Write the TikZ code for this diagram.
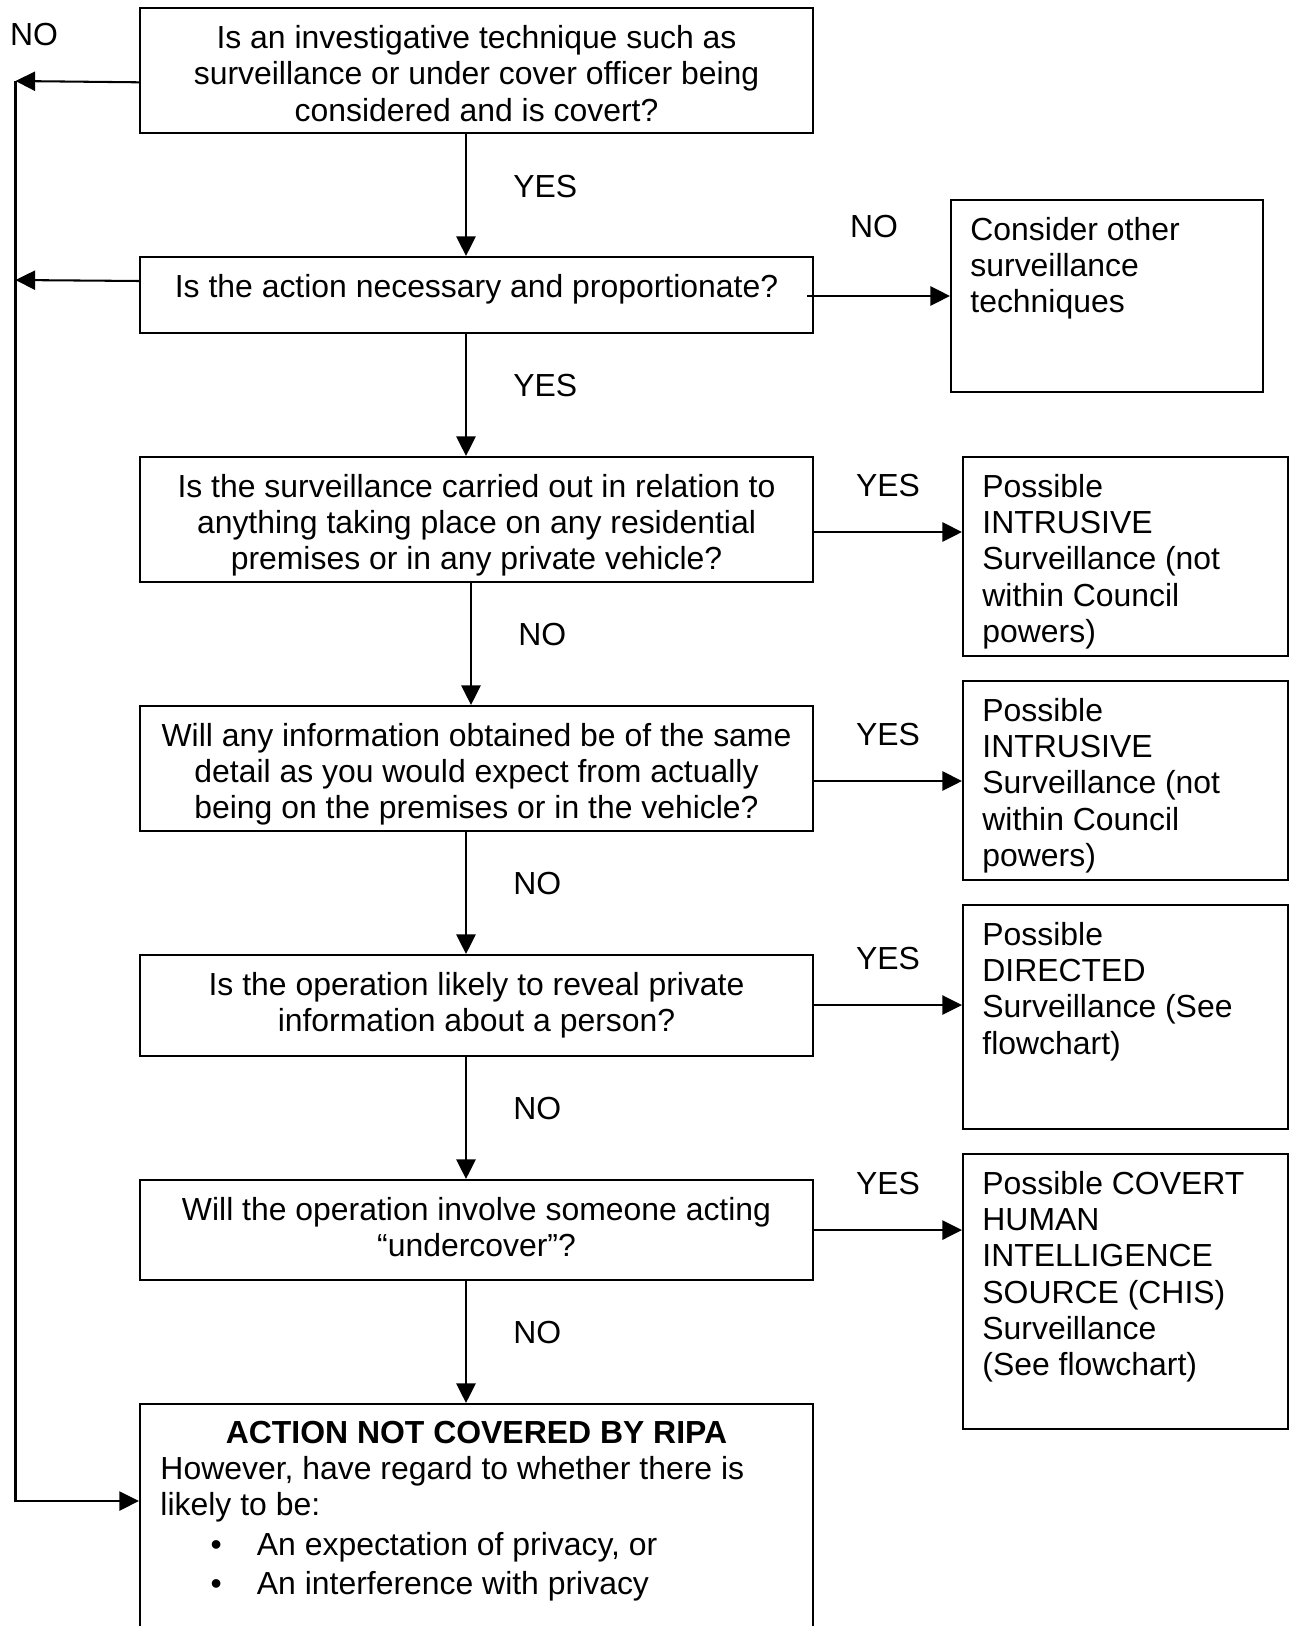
\documentclass[tikz,border=0pt]{standalone}
\usepackage{fontspec}
\setmainfont{Liberation Sans}
\usetikzlibrary{arrows.meta, calc}
\tikzset{
  every picture/.style={font=\fontsize{14}{15.9}\selectfont, line width=0.9pt},
  qbox/.style={draw, anchor=north, inner xsep=9pt, inner ysep=7.5pt},
  obox/.style={draw, anchor=north west, inner xsep=8.5pt, inner ysep=7.5pt},
  arrow/.style={-{Triangle[length=8.6pt, width=8.4pt]}},
  vlab/.style={anchor=west, xshift=17pt, yshift=4pt},
  hlab/.style={yshift=20.6pt},
}

\begin{document}
\begin{tikzpicture}[x=0.4386pt, y=-0.4386pt]
  \useasboundingbox (0,0) rectangle (1293,1626);
  \clip (0,0) rectangle (1293,1626);
  % questions
  \node[qbox] (q1) at (476.5,7.3) {\parbox[c][39.8pt][t]{277.2pt}{\centering Is an investigative technique such as\\surveillance or under cover officer being\\considered and is covert?}};
  \node[qbox] (q2) at (476.5,256) {\parbox[c][18.3pt][t]{277.2pt}{\centering Is the action necessary and proportionate?}};
  \node[qbox] (q3) at (476.5,456) {\parbox[c][39.8pt][t]{277.2pt}{\centering Is the surveillance carried out in relation to\\anything taking place on any residential\\premises or in any private vehicle?}};
  \node[qbox] (q4) at (476.5,705) {\parbox[c][39.8pt][t]{277.2pt}{\centering Will any information obtained be of the same\\detail as you would expect from actually\\being on the premises or in the vehicle?}};
  \node[qbox] (q5) at (476.5,954) {\parbox[c][29.3pt][t]{277.2pt}{\centering Is the operation likely to reveal private\\information about a person?}};
  \node[qbox] (q6) at (476.5,1179) {\parbox[c][28.9pt][t]{277.2pt}{\centering Will the operation involve someone acting\\“undercover”?}};
  \node[qbox] (fin) at (476.5,1403) {\parbox[c][91pt][t]{277.2pt}{\centering\textbf{ACTION NOT COVERED BY RIPA}\par
    \raggedright However, have regard to whether there is\\likely to be:\par
    {\fontsize{14}{17.3}\selectfont
    \hspace*{22pt}\makebox[20.3pt][l]{\textbullet}An expectation of privacy, or\par
    \hspace*{22pt}\makebox[20.3pt][l]{\textbullet}An interference with privacy\par}}};
  % outcomes
  \node[obox] (cons) at (950,199) {\parbox[c][69.2pt][t]{119.8pt}{\raggedright Consider other\\surveillance\\techniques}};
  \node[obox] (int1) at (962,456) {\parbox[c][72.3pt][t]{125.5pt}{\raggedright Possible\\INTRUSIVE\\Surveillance (not\\within Council\\powers)}};
  \node[obox] (int2) at (962,680) {\parbox[c][72.3pt][t]{125.5pt}{\raggedright Possible\\INTRUSIVE\\Surveillance (not\\within Council\\powers)}};
  \node[obox] (dir) at (962,904) {\parbox[c][83.2pt][t]{125.5pt}{\raggedright Possible\\DIRECTED\\Surveillance (See\\flowchart)}};
  \node[obox] (chis) at (962,1153) {\parbox[c][105.6pt][t]{125.5pt}{\raggedright Possible COVERT\\HUMAN\\INTELLIGENCE\\SOURCE (CHIS)\\Surveillance\\(See flowchart)}};
  % down the middle
  \foreach \a/\b/\dx/\t in {q1/q2/-10.5/YES, q2/q3/-10.5/YES, q3/q4/-5.5/NO, q4/q5/-10.5/NO, q5/q6/-10.5/NO, q6/fin/-10.5/NO}
    \draw[arrow] ($(\a.south)+(\dx,0)$) -- ($(\b.north)+(\dx,0)$) node[midway, vlab] {\t};
  % to the right
  \draw[arrow] ($(q2.east)+(-7,1)$) coordinate (s) -- (s -| cons.west) node[midway, yshift=30.3pt, xshift=-2pt] {NO};
  \foreach \a/\b/\dy in {q3/int1/12.5, q4/int2/12.5, q5/dir/-0.5, q6/chis/0}
    \draw[arrow] ($(\a.east)+(0,\dy)$) coordinate (s) -- (s -| \b.west) node[midway, hlab] {YES};
  % left rail
  \coordinate (r1) at (15.5,81);
  \coordinate (r2) at (15.5,280);
  \coordinate (r3) at (15.5,1501);
  \node (no0) at (34,35) {NO};
  \draw[arrow] ($(q1.west)+(0,11.5)$) -- (r1);
  \draw[arrow] ($(q2.west)+(0,-14)$) -- (r2);
  \draw[arrow] (r1) -- (r3) -- (r3 -| fin.west);
\end{tikzpicture}
\end{document}
